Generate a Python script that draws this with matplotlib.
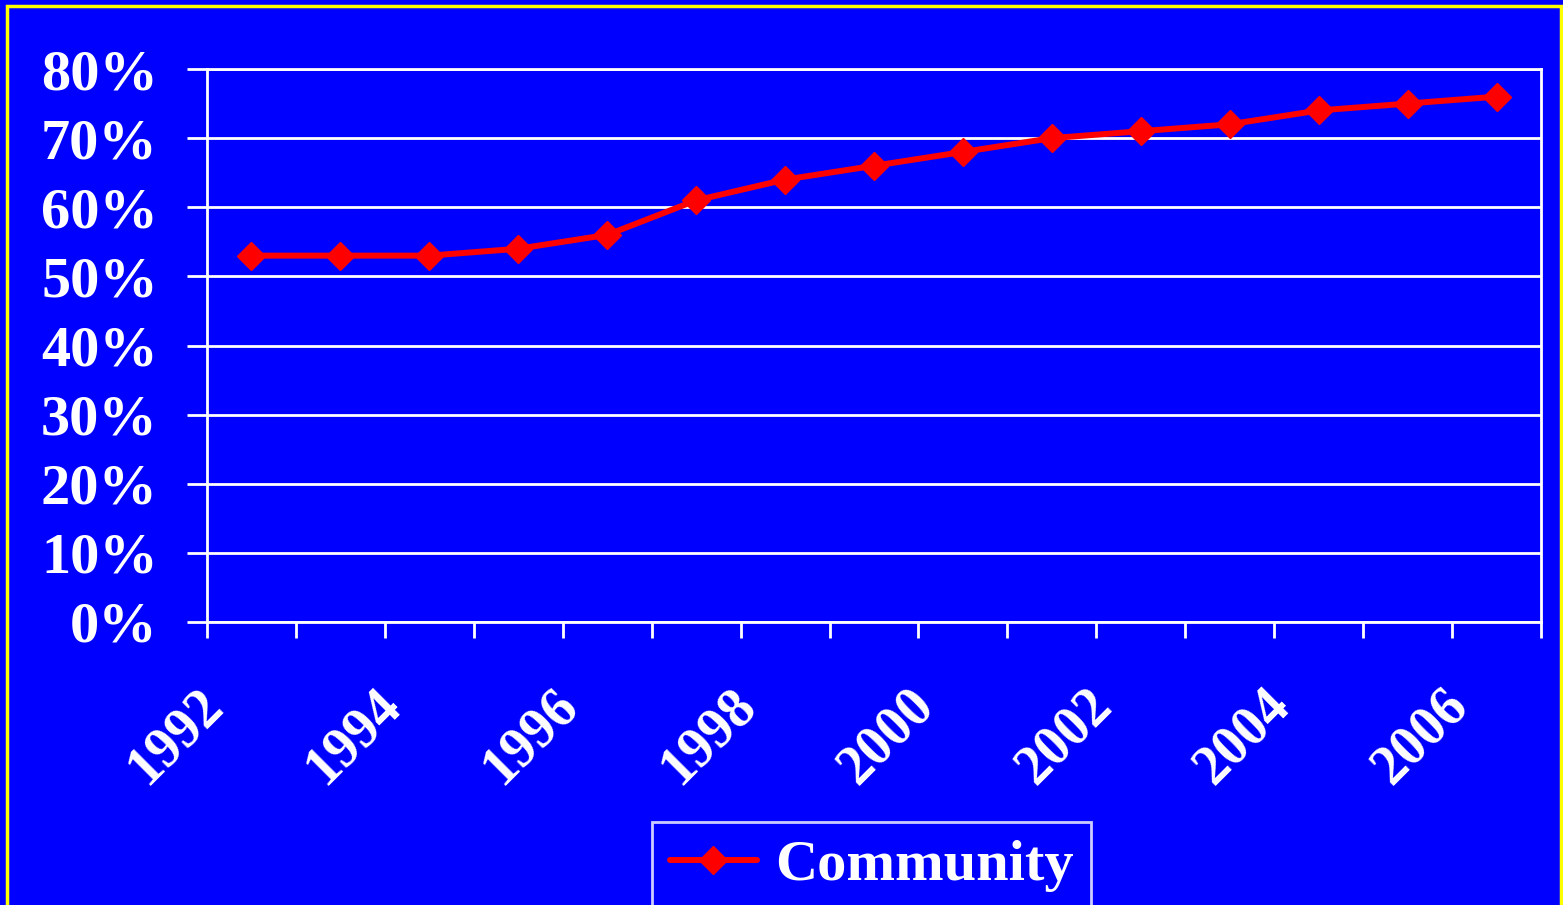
import matplotlib.pyplot as plt
import matplotlib.transforms as mtransforms
from matplotlib.patches import Rectangle

years = list(range(1992, 2007))
community = [53, 53, 53, 54, 56, 61, 64, 66, 68, 70, 71, 72, 74, 75, 76]
yticks = [0, 10, 20, 30, 40, 50, 60, 70, 80]

blue = "#0000FF"
serif = ["Liberation Serif", "DejaVu Serif"]

fig = plt.figure(figsize=(15.63, 9.05), dpi=100, facecolor=blue)
ax = fig.add_axes([207 / 1563, 1 - 622 / 905, (1541 - 207) / 1563, (622 - 69) / 905])
ax.set_facecolor(blue)

xs = list(range(len(years)))
ax.plot(xs, community, color="red", lw=4.3, marker="D", markersize=14,
        label="Community", solid_joinstyle="round", solid_capstyle="round")

ax.set_xlim(-0.5, len(years) - 0.5)
ax.set_ylim(0, 80)
ax.set_yticks(yticks)
ax.set_yticklabels([f"{v}%" for v in yticks], fontfamily=serif,
                   fontweight="bold", fontsize=42, color="white")
ax.yaxis.grid(True, color="white", lw=2)
ax.tick_params(axis="y", length=14.4, width=2, color="white", pad=21)

# tick marks between categories, labels every other year
ax.set_xticks([i - 0.5 for i in range(len(years) + 1)])
ax.set_xticklabels([])
ax.tick_params(axis="x", which="major", length=11.5, width=2, color="white")
ax.set_xticks(xs[::2], minor=True)
ax.set_xticklabels([str(y) for y in years[::2]], minor=True, rotation=45,
                   ha="right", va="center", rotation_mode="anchor",
                   fontfamily=serif, fontweight="bold", fontsize=40, color="white")
ax.tick_params(axis="x", which="minor", length=0, pad=54)
shift = mtransforms.ScaledTranslation(-37 / 100, 0, fig.dpi_scale_trans)
for lab in ax.xaxis.get_minorticklabels():
    lab.set_transform(lab.get_transform() + shift)

for s in ax.spines.values():
    s.set_color("white")
    s.set_linewidth(2)

leg = ax.legend(loc="upper center", bbox_to_anchor=(871.5 / 1563, 1 - 822 / 905),
                bbox_transform=fig.transFigure, frameon=True, fancybox=False,
                prop={"family": serif, "weight": "bold", "size": 42},
                handlelength=1.5, borderpad=0.3, handletextpad=0.3,
                borderaxespad=0)
leg.get_frame().set_facecolor(blue)
leg.get_frame().set_edgecolor("white")
leg.get_frame().set_linewidth(2)
for t in leg.get_texts():
    t.set_color("white")

fig.patches.append(Rectangle((7 / 1563, -0.05), 1554 / 1563, 1.05 - 6 / 905,
                             transform=fig.transFigure, fill=False,
                             edgecolor="yellow", lw=2.5))

fig.savefig("out.png", dpi=100, facecolor=blue)
